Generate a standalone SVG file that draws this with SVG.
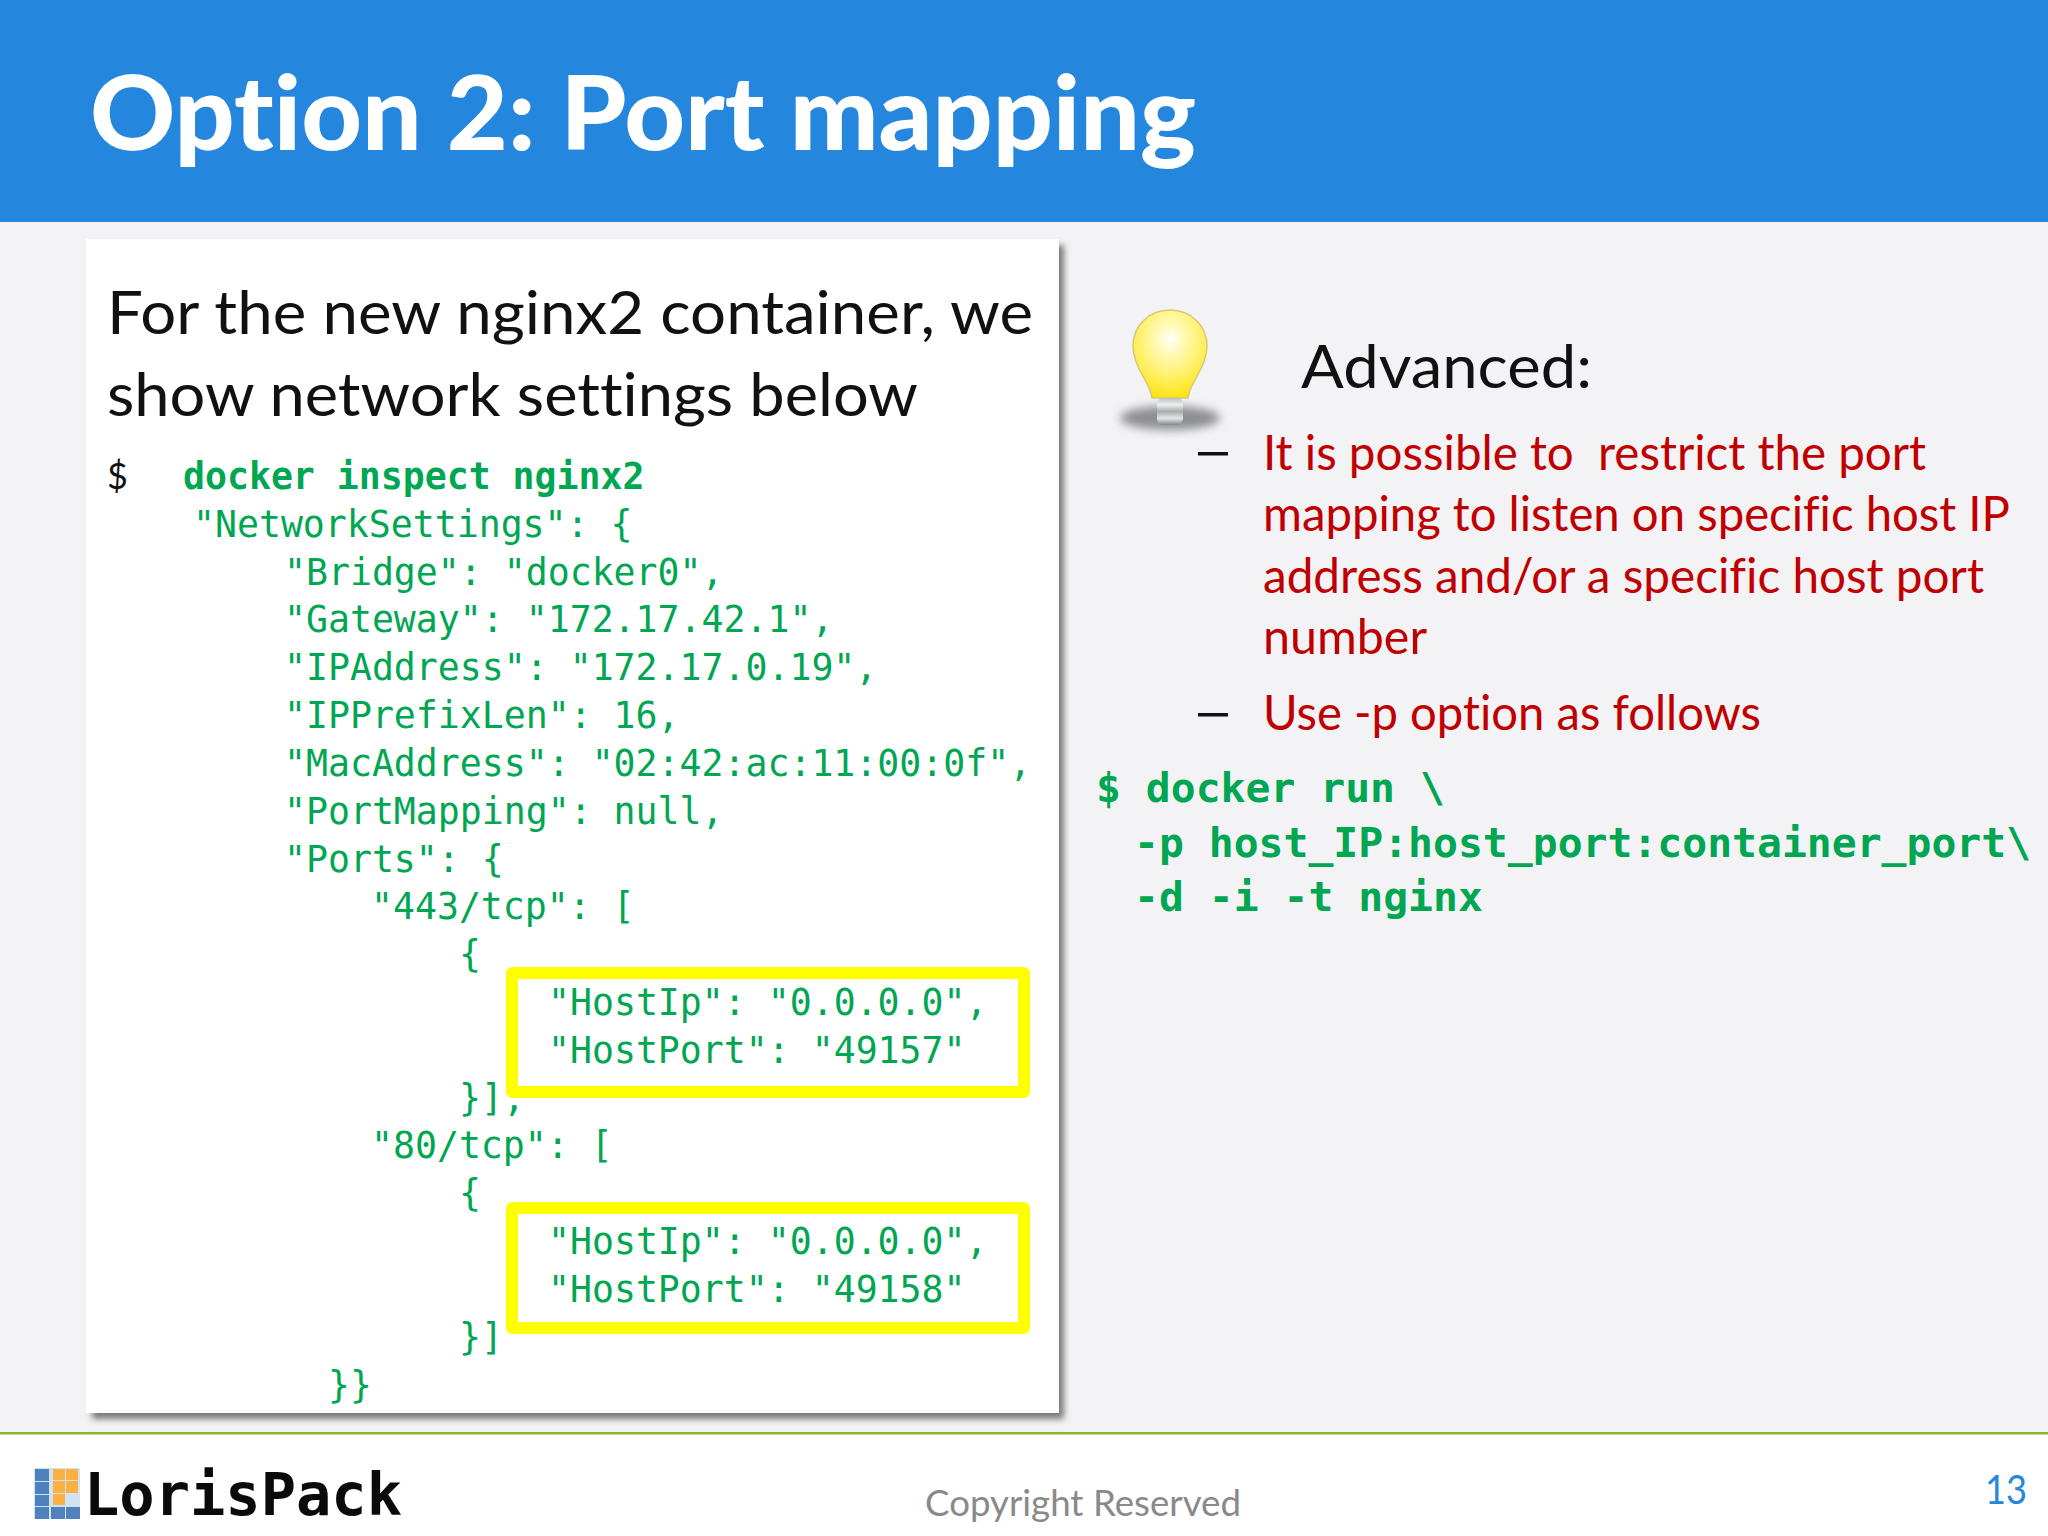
<svg xmlns="http://www.w3.org/2000/svg" width="2048" height="1536" viewBox="0 0 2048 1536">
<style>
text{font-variant-ligatures:none}
.ui{font-family:"Lato","Noto Sans",sans-serif}
.c{font-family:"DejaVu Sans Mono","Liberation Mono",monospace;font-size:36.5px;fill:#00a651;white-space:pre}
.b{font-family:"DejaVu Sans Mono","Liberation Mono",monospace;font-size:41.4px;font-weight:bold;fill:#00a651;white-space:pre}
.r{font-size:48px;fill:#c00000}
.k{font-size:60px;fill:#111}
.y{fill:none;stroke:#ffff00;stroke-width:12;stroke-linejoin:round}
.lb{fill:#4f81bd}.lo{fill:#fbb040}
</style>
<defs>
<filter id="bl" x="-10%" y="-10%" width="120%" height="120%"><feGaussianBlur stdDeviation="3"/></filter>
<filter id="bl2" x="-30%" y="-60%" width="160%" height="220%"><feGaussianBlur stdDeviation="5"/></filter>
<radialGradient id="gb" cx="0.5" cy="0.33" r="0.72"><stop offset="0" stop-color="#ffffff"/><stop offset="0.2" stop-color="#fffbc0"/><stop offset="0.6" stop-color="#fff06a"/><stop offset="1" stop-color="#ffe000"/></radialGradient>
<linearGradient id="gs" x1="0" y1="0" x2="0" y2="1"><stop offset="0" stop-color="#b8bcc4"/><stop offset="0.25" stop-color="#eef0f0"/><stop offset="0.5" stop-color="#a8acaa"/><stop offset="0.75" stop-color="#e4e6e6"/><stop offset="1" stop-color="#85898c"/></linearGradient>
</defs>
<rect width="2048" height="1536" fill="#f3f2f4"/>
<rect id="header" width="2048" height="222" fill="#2486dc"/>
<text class="ui" x="90" y="150" font-size="102" font-weight="900" fill="#fff" textLength="1106" lengthAdjust="spacingAndGlyphs">Option 2: Port mapping</text>

<g id="panel">
<rect x="92" y="245" width="972" height="1174" fill="#7a7a7a" filter="url(#bl)"/>
<rect x="86" y="239" width="973" height="1174" fill="#fff"/>
<text class="ui k" x="107" y="334" textLength="926" lengthAdjust="spacingAndGlyphs">For the new nginx2 container, we</text>
<text class="ui k" x="107" y="416" textLength="811" lengthAdjust="spacingAndGlyphs">show network settings below</text>
<text class="ui" x="107" y="489" font-size="36" fill="#111">$</text>
<text class="c" x="183" y="489" font-weight="bold">docker inspect nginx2</text>
<text class="c" x="193" y="537">"NetworkSettings": {</text>
<text class="c" x="284" y="585">"Bridge": "docker0",</text>
<text class="c" x="284" y="632">"Gateway": "172.17.42.1",</text>
<text class="c" x="284" y="680">"IPAddress": "172.17.0.19",</text>
<text class="c" x="284" y="728">"IPPrefixLen": 16,</text>
<text class="c" x="284" y="776">"MacAddress": "02:42:ac:11:00:0f",</text>
<text class="c" x="284" y="824">"PortMapping": null,</text>
<text class="c" x="284" y="872">"Ports": {</text>
<text class="c" x="371" y="919">"443/tcp": [</text>
<text class="c" x="459" y="967">{</text>
<text class="c" x="548" y="1015">"HostIp": "0.0.0.0",</text>
<text class="c" x="548" y="1063">"HostPort": "49157"</text>
<text class="c" x="459" y="1111">}],</text>
<text class="c" x="371" y="1158">"80/tcp": [</text>
<text class="c" x="459" y="1206">{</text>
<text class="c" x="548" y="1254">"HostIp": "0.0.0.0",</text>
<text class="c" x="548" y="1302">"HostPort": "49158"</text>
<text class="c" x="459" y="1350">}]</text>
<text class="c" x="328" y="1398">}}</text>
<rect class="y" x="512" y="973" width="512" height="119"/>
<rect class="y" x="512" y="1208" width="512" height="120"/>
</g>

<g id="bulb">
<ellipse cx="1170" cy="418" rx="50" ry="12" fill="#8c8e92" filter="url(#bl2)"/>
<path d="M1170 310c-21 0-37 16-37 36 0 12 5 22 11 32 4 7 7 12 8 20h36c1-8 4-13 8-20 6-10 11-20 11-32 0-20-16-36-37-36z" fill="url(#gb)" stroke="#d8c878" stroke-width="1.5"/>
<rect x="1157" y="398" width="26" height="27" rx="6" fill="url(#gs)"/>
</g>

<g id="advanced">
<text class="ui k" x="1301" y="388" textLength="291" lengthAdjust="spacingAndGlyphs">Advanced:</text>
<rect x="1198" y="452" width="30" height="3.5" fill="#111"/>
<text class="ui r" x="1263" y="470" textLength="663" lengthAdjust="spacingAndGlyphs" xml:space="preserve">It is possible to  restrict the port</text>
<text class="ui r" x="1263" y="531" textLength="747" lengthAdjust="spacingAndGlyphs">mapping to listen on specific host IP</text>
<text class="ui r" x="1263" y="593" textLength="721" lengthAdjust="spacingAndGlyphs">address and/or a specific host port</text>
<text class="ui r" x="1263" y="654" textLength="164" lengthAdjust="spacingAndGlyphs">number</text>
<rect x="1198" y="713" width="30" height="3.5" fill="#111"/>
<text class="ui r" x="1263" y="730" textLength="498" lengthAdjust="spacingAndGlyphs">Use -p option as follows</text>
<text class="b" x="1096" y="802">$ docker run \</text>
<text class="b" x="1134" y="857">-p host_IP:host_port:container_port\</text>
<text class="b" x="1134" y="911">-d -i -t nginx</text>
</g>

<g id="footer">
<rect y="1433" width="2048" height="103" fill="#fff"/>
<rect y="1432" width="2048" height="2.5" fill="#8fb52c"/>
<g id="logo">
<rect x="34" y="1468" width="46" height="51" fill="#cfe3f2"/>
<rect class="lb" x="35" y="1469" width="14" height="12"/><rect class="lb" x="35" y="1482" width="14" height="12"/><rect class="lb" x="35" y="1495" width="14" height="11"/><rect class="lb" x="35" y="1507" width="14" height="12"/>
<rect class="lb" x="51" y="1507" width="14" height="12"/><rect class="lb" x="66" y="1507" width="14" height="12"/>
<rect class="lo" x="53" y="1469" width="12" height="11"/><rect class="lo" x="66" y="1469" width="12" height="11"/><rect class="lo" x="53" y="1481" width="12" height="12"/><rect class="lo" x="66" y="1481" width="12" height="12"/><rect class="lo" x="53" y="1494" width="12" height="11"/>
<text x="84" y="1515" font-family="'DejaVu Sans Mono',monospace" font-weight="bold" font-size="58" fill="#0a0a0a" textLength="318" lengthAdjust="spacingAndGlyphs">LorisPack</text>
</g>
<text class="ui" x="925" y="1516" font-size="37" fill="#898989" textLength="316" lengthAdjust="spacingAndGlyphs">Copyright Reserved</text>
<text class="ui" x="1985" y="1504" font-size="40" fill="#2486dc" textLength="42" lengthAdjust="spacingAndGlyphs">13</text>
</g>
</svg>
